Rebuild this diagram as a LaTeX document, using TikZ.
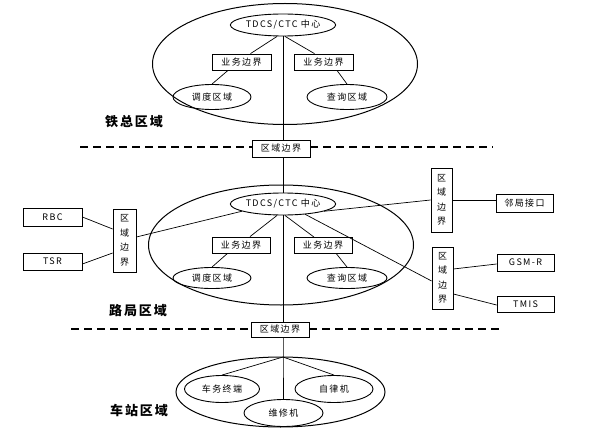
\documentclass[tikz,border=0pt]{standalone}
\usepackage{fontspec}
\setmainfont{Noto Sans CJK SC}[LetterSpace=15]
\usepackage{tikz}
\usetikzlibrary{shapes.geometric}

\begin{document}
\begin{tikzpicture}[x=1pt, y=-1pt,
  rect/.style={draw, line width=0.8pt, inner sep=0pt, font=\fontsize{9}{11}\selectfont},
  vrect/.style={rect, align=center, font=\fontsize{9}{14.5}\selectfont},
  oval/.style={draw, ellipse, line width=0.9pt, inner sep=0pt, font=\fontsize{9}{11}\selectfont},
  zone/.style={draw, ellipse, line width=1pt, inner sep=0pt},
  zonelab/.style={font=\fontsize{13}{15}\selectfont\bfseries},
  link/.style={line width=0.7pt},
  cut/.style={line width=2pt, dash pattern=on 8pt off 5pt}]
\fill[white] (0,0) rectangle (589,433);
\useasboundingbox (0,0) rectangle (589,433);

% railway head office
\node[zone, minimum width=265pt, minimum height=121pt] (railzone) at (285,64) {};
\node[oval, minimum width=99pt, minimum height=22pt] (tdcsA) at (283,25) {TDCS/CTC 中心};
\node[rect, minimum width=59pt, minimum height=16pt] (bizA1) at (241.5,62) {业务边界};
\node[rect, minimum width=59pt, minimum height=16pt] (bizA2) at (323.5,62) {业务边界};
\node[oval, minimum width=78pt, minimum height=25pt] (dispA) at (212,97) {调度区域};
\node[oval, minimum width=80pt, minimum height=25pt] (queryA) at (347,97) {查询区域};
\node[zonelab] (labA) at (134,122) {铁总区域};

\node[rect, minimum width=58pt, minimum height=17pt] (bdA) at (281,148.5) {区域边界};
\coordinate (cutAl) at (80,147);
\coordinate (cutAr) at (493,147);

% railway bureau
\node[zone, minimum width=265pt, minimum height=120pt] (bureauzone) at (281,245) {};
\node[oval, minimum width=99pt, minimum height=22pt] (tdcsB) at (283,204) {TDCS/CTC 中心};
\node[rect, minimum width=58pt, minimum height=16pt] (bizB1) at (241,245) {业务边界};
\node[rect, minimum width=58pt, minimum height=16pt] (bizB2) at (323,245.5) {业务边界};
\node[oval, minimum width=78pt, minimum height=21pt] (dispB) at (212,278) {调度区域};
\node[oval, minimum width=80pt, minimum height=21pt] (queryB) at (347,278) {查询区域};
\node[zonelab] (labB) at (138,311) {路局区域};

\node[rect, minimum width=59pt, minimum height=18pt] (rbc) at (52.5,217) {RBC};
\node[rect, minimum width=59pt, minimum height=17pt] (tsr) at (52.5,261.5) {TSR};
\node[vrect, minimum width=23pt, minimum height=63pt] (bdL) at (124.5,240.5) {区\\域\\边\\界};
\node[vrect, minimum width=21pt, minimum height=64pt] (bdR1) at (441.5,200) {区\\域\\边\\界};
\node[rect, minimum width=57pt, minimum height=18pt] (nbr) at (524.5,203) {邻局接口};
\node[vrect, minimum width=21pt, minimum height=62pt] (bdR2) at (442.5,278) {区\\域\\边\\界};
\node[rect, minimum width=57pt, minimum height=17pt] (gsmr) at (525.5,262.5) {GSM-R};
\node[rect, minimum width=57pt, minimum height=16pt] (tmis) at (525.5,304) {TMIS};

\node[rect, minimum width=58pt, minimum height=15pt] (bdB) at (280,329.5) {区域边界};
\coordinate (cutBl) at (71,329);
\coordinate (cutBr) at (502,329);

% station
\node[zone, minimum width=209pt, minimum height=70pt] (stationzone) at (280.5,392) {};
\node[oval, minimum width=75pt, minimum height=27pt] (term) at (222,389) {车务终端};
\node[oval, minimum width=78pt, minimum height=27pt] (selfc) at (334,389) {自律机};
\node[oval, minimum width=79pt, minimum height=27pt] (maint) at (283.5,413) {维修机};
\node[zonelab] (labC) at (139,410) {车站区域};
\coordinate (hub) at (283,357);

% dashed zone borders
\draw[cut] (cutAl) -- (bdA.west |- cutAl);
\draw[cut] (bdA.east |- cutAr) -- (cutAr);
\draw[cut] (cutBl) -- (bdB.west |- cutBl);
\draw[cut] (bdB.east |- cutBr) -- (cutBr);

% links
\draw[link] ([xshift=-6]tdcsA.south) -- ([xshift=9]bizA1.north);
\draw[link] ([xshift=2]tdcsA.south) -- ([xshift=-9]bizA2.north);
\draw[link] ([xshift=-13.5]bizA1.south) -- (dispA.north);
\draw[link] ([xshift=13.5]bizA2.south) -- (queryA.north);
\draw[link] (tdcsA.south) -- (tdcsA.south |- bdA.north);
\draw[link] (tdcsA.south |- bdA.south) -- (tdcsB.north);

\draw[link] ([xshift=-6]tdcsB.south) -- ([xshift=9]bizB1.north);
\draw[link] ([xshift=2]tdcsB.south) -- ([xshift=-9]bizB2.north);
\draw[link] ([xshift=-13.5]bizB1.south) -- (dispB.north);
\draw[link] ([xshift=13.5]bizB2.south) -- (queryB.north);
\draw[link] (tdcsB.south) -- (tdcsB.south |- bdB.north);

\draw[link] (rbc.east) -- ([yshift=11.5]bdL.west);
\draw[link] ([yshift=-2.5]tsr.east) -- ([yshift=-12.5]bdL.west);
\draw[link] ([yshift=3.5]bdL.east) -- (tdcsB.190);
\draw[link] (tdcsB.350) -- (bdR1.west);
\draw[link] (bdR1.east) -- (bdR1.east -| nbr.west);
\draw[link] (tdcsB.335) -- ([yshift=-3]bdR2.west);
\draw[link] ([yshift=9]bdR2.east) -- ([yshift=-1.5]gsmr.west);
\draw[link] ([yshift=-16]bdR2.east) -- ([yshift=-1]tmis.west);

\draw[link] (hub |- bdB.south) -- (hub) -- (hub |- maint.north);
\draw[link] (hub) -- (term.north);
\draw[link] (hub) -- (selfc.north);
\end{tikzpicture}
\end{document}
